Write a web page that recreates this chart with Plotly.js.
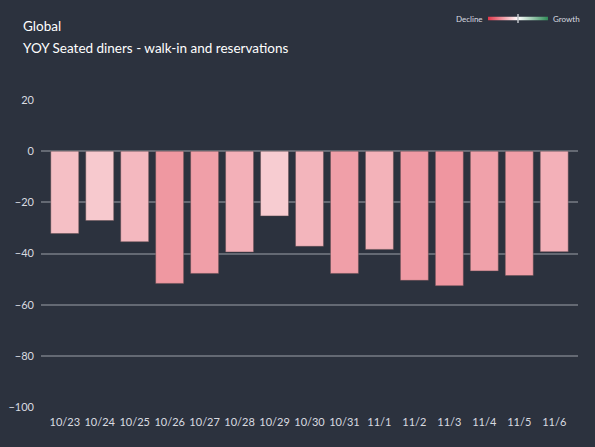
<!DOCTYPE html>
<html>
<head>
<meta charset="utf-8">
<script src="https://cdn.plot.ly/plotly-3.0.1.min.js"></script>
<style>
html,body{margin:0;padding:0;background:#2c323e;}
#chart{width:595px;height:447px;}
</style>
</head>
<body>
<div id="chart"></div>
<script>
const categories = ['10/23','10/24','10/25','10/26','10/27','10/28','10/29','10/30','10/31','11/1','11/2','11/3','11/4','11/5','11/6'];
const yoyValues = [-32.2, -27.1, -35.4, -51.7, -47.8, -39.4, -25.3, -37.2, -47.8, -38.4, -50.5, -52.6, -46.8, -48.6, -39.3];
const yTicks = [-100, -80, -60, -40, -20, 0, 20];
const titleLine1 = 'Global';
const titleLine2 = 'YOY Seated diners - walk-in and reservations';
const legendLow = 'Decline';
const legendHigh = 'Growth';

const FONT = 'Lato, "Open Sans", sans-serif';
const colorscale = [[0, '#e0374a'], [0.5, '#ffffff'], [1, '#2e8b57']];

// plot-area geometry helpers (pixels -> paper)
const L = 41, R = 578, T = 10, B = 407;
const px = v => (v - L) / (R - L);
const py = v => (B - v) / (B - T);

const bars = {
  type: 'bar',
  x: categories,
  y: yoyValues,
  marker: {
    color: yoyValues,
    colorscale: colorscale,
    cmin: -100,
    cmax: 100,
    line: {color: 'rgba(90,70,75,0.45)', width: 1},
    showscale: false
  },
  hoverinfo: 'x+y'
};

// gradient key (Decline -> Growth)
const gradientKey = {
  type: 'scatter',
  mode: 'lines',
  x: [0, 1, 1, 0, 0],
  y: [0, 0, 1, 1, 0],
  xaxis: 'x2', yaxis: 'y2',
  fill: 'toself',
  fillgradient: {type: 'horizontal', colorscale: colorscale},
  line: {width: 0, color: 'rgba(0,0,0,0)'},
  hoverinfo: 'skip'
};

const layout = {
  width: 595,
  height: 447,
  paper_bgcolor: '#2c323e',
  plot_bgcolor: 'rgba(0,0,0,0)',
  margin: {l: 41, r: 17, t: 10, b: 40},
  font: {family: FONT, color: '#d9dbe0', size: 11},
  bargap: 0.2,
  showlegend: false,
  xaxis: {
    type: 'category',
    range: [-0.68, 14.68],
    showgrid: false,
    zeroline: false,
    showline: false,
    ticks: '',
    ticklabelstandoff: 7,
    tickfont: {family: FONT, size: 11, color: '#d9dbe0'},
    fixedrange: true
  },
  yaxis: {
    domain: [0, py(100)],
    range: [-100, 20],
    tickvals: yTicks,
    showgrid: true,
    gridcolor: '#646973',
    gridwidth: 2,
    zeroline: true,
    zerolinecolor: '#646973',
    zerolinewidth: 2,
    showline: false,
    ticks: '',
    ticklabelstandoff: 6,
    tickfont: {family: FONT, size: 11, color: '#d9dbe0'},
    fixedrange: true
  },
  xaxis2: {
    domain: [px(488), px(548)],
    range: [0, 1],
    anchor: 'y2',
    visible: false,
    fixedrange: true
  },
  yaxis2: {
    domain: [py(20.5), py(16.5)],
    range: [0, 1],
    anchor: 'x2',
    visible: false,
    fixedrange: true
  },
  annotations: [
    {text: titleLine1, xref: 'paper', yref: 'paper', x: px(21), y: py(36),
     xanchor: 'left', yanchor: 'bottom', showarrow: false,
     font: {family: FONT, size: 13.5, color: '#ffffff'}},
    {text: titleLine2, xref: 'paper', yref: 'paper', x: px(21), y: py(58),
     xanchor: 'left', yanchor: 'bottom', showarrow: false,
     font: {family: FONT, size: 13.5, color: '#ffffff'}},
    {text: legendLow, xref: 'paper', yref: 'paper', x: px(485), y: py(18.5),
     xanchor: 'right', yanchor: 'middle', showarrow: false,
     font: {family: FONT, size: 8, color: '#d9dbe0'}},
    {text: legendHigh, xref: 'paper', yref: 'paper', x: px(551), y: py(18.5),
     xanchor: 'left', yanchor: 'middle', showarrow: false,
     font: {family: FONT, size: 8, color: '#d9dbe0'}}
  ],
  shapes: [
    {type: 'line', xref: 'paper', yref: 'paper',
     x0: px(518), x1: px(518),
     y0: py(23), y1: py(14),
     line: {color: '#bfc3c9', width: 1.5}}
  ]
};

Plotly.newPlot('chart', [bars, gradientKey], layout, {displayModeBar: false, staticPlot: true});
</script>
</body>
</html>
